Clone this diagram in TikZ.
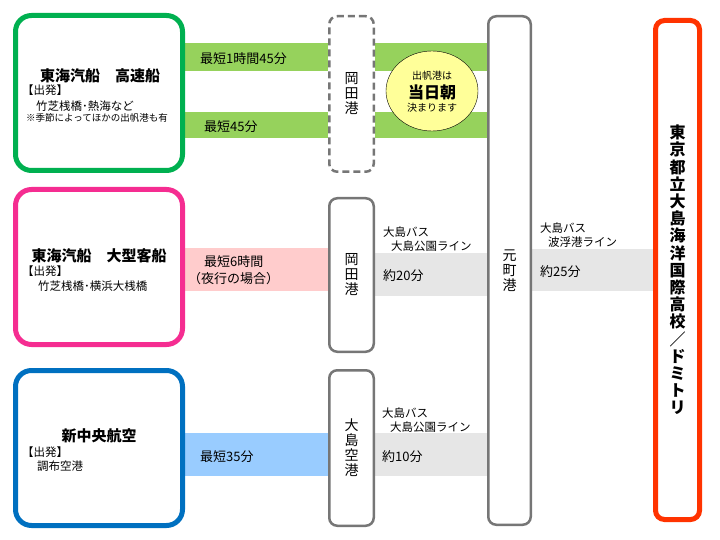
\documentclass[tikz,border=0pt]{standalone}
\usepackage{fontspec}
\setmainfont{Noto Sans CJK JP}
\usepackage{xcolor}
\usepackage{tikz}
\usetikzlibrary{shapes.geometric,backgrounds}

\definecolor{kgreen}{RGB}{0,176,80}
\definecolor{bgreen}{RGB}{150,210,92}
\definecolor{kpink}{RGB}{245,45,145}
\definecolor{bpink}{RGB}{255,204,204}
\definecolor{kblue}{RGB}{0,112,192}
\definecolor{bblue}{RGB}{153,204,255}
\definecolor{portgrey}{RGB}{118,118,118}
\definecolor{bgrey}{RGB}{230,230,230}
\definecolor{kred}{RGB}{255,51,0}
\definecolor{kyellow}{RGB}{255,255,153}

\newcommand{\fs}[2]{\fontsize{#1}{#2}\selectfont}

\begin{document}
\begin{tikzpicture}[x=1pt,y=-1pt,
	startbox/.style={draw,line width=5pt,rounded corners=16pt,fill=white,
		minimum width=167pt,minimum height=155pt,inner sep=0pt},
	portbox/.style={draw=portgrey,line width=2.5pt,rounded corners=8pt,fill=white,
		minimum width=44.5pt,inner sep=0pt,align=center,font=\fs{14}{15}},
	band/.style={line width=#1},
	txt/.style={anchor=west,inner sep=0pt},
	title/.style={inner sep=0pt,font=\fs{15}{16}\bfseries},
	]
	\useasboundingbox (0,0) rectangle (720,540);

	% departure boxes
	\node[startbox,draw=kgreen] (kousoku) at (99,93) {};
	\node[startbox,draw=kpink] (ogata) at (99,267) {};
	\node[startbox,draw=kblue] (chuo) at (99,448) {};

	% ports
	\node[portbox,dashed,dash pattern=on 7pt off 4pt,minimum height=155.5pt] (okadaA) at (351.5,94) {岡\\田\\港};
	\node[portbox,minimum height=153.5pt] (okadaB) at (351.5,275) {岡\\田\\港};
	\node[portbox,minimum height=155.5pt] (kuukou) at (351.5,448) {大\\島\\空\\港};
	\node[portbox,minimum width=42.5pt,minimum height=508.5pt] (moto) at (509.5,270.5) {元\\町\\港};

	% goal
	\node[draw=kred,line width=5pt,rounded corners=9pt,fill=white,inner sep=0pt,
		minimum width=44pt,minimum height=499pt,align=center,font=\fs{16}{17.2}\bfseries]
		(gakkou) at (677.5,270) {東\\京\\都\\立\\大\\島\\海\\洋\\国\\際\\高\\校\\／\\ド\\ミ\\ト\\リ};

	% bands
	\begin{scope}[on background layer]
		\foreach \y/\w in {57/28pt,125/26pt}{
			\draw[band=\w,bgreen] (kousoku.east |- 0,\y) -- (okadaA.west |- 0,\y);
			\draw[band=\w,bgreen] (okadaA.east |- 0,\y) -- (moto.west |- 0,\y);
		}
		\draw[band=43pt,bpink] (ogata.east |- 0,269.5) -- (okadaB.west |- 0,269.5);
		\draw[band=43pt,bgrey] (okadaB.east |- 0,274.5) -- (moto.west |- 0,274.5);
		\draw[band=42pt,bgrey] (moto.east |- 0,270) -- (gakkou.west |- 0,270);
		\draw[band=43pt,bblue] (chuo.east |- 0,454.5) -- (kuukou.west |- 0,454.5);
		\draw[band=43pt,bgrey] (kuukou.east |- 0,454.5) -- (moto.west |- 0,454.5);
	\end{scope}

	% yellow note
	\node[ellipse,draw,thin,fill=kyellow,minimum width=92pt,minimum height=80pt,inner sep=0pt] (kettei) at (432,91) {};
	\node[inner sep=0pt,font=\fs{10}{11}] (ketteiA) at (432,76) {出帆港は};
	\node[inner sep=0pt,font=\fs{16}{17}\bfseries] (ketteiB) at (432,92) {当日朝};
	\node[inner sep=0pt,font=\fs{10}{11}] (ketteiC) at (432,108) {決まります};

	% box texts
	\node[title] (kousokuT) at (100,76) {東海汽船　高速船};
	\node[title] (ogataT) at (99,256) {東海汽船　大型客船};
	\node[title] (chuoT) at (99,436) {新中央航空};
	\foreach \n/\y in {a/90,b/271,c/452}
		\node[txt,font=\fs{11.5}{12}] (dep\n) at (22,\y) {【出発】};
	\node[txt,font=\fs{11.5}{12}] (kousokuD) at (36,106) {竹芝桟橋･熱海など};
	\node[txt,font=\fs{9.5}{10}] (kousokuN) at (26,118) {※季節によってほかの出帆港も有};
	\node[txt,font=\fs{11.5}{12}] (ogataD) at (38,286) {竹芝桟橋･横浜大桟橋};
	\node[txt,font=\fs{11.5}{12}] (chuoD) at (37,466) {調布空港};

	% times
	\foreach \x/\y/\t [count=\i] in {200/59/最短1時間45分,204/127/最短45分,204/262/最短6時間,188/279/（夜行の場合）,200/457/最短35分}
		\node[txt,font=\fs{13}{14}] (jikan\i) at (\x,\y) {\t};

	% buses
	\foreach \x/\y/\l/\t [count=\i] in {383/232/大島公園ライン/約20分,382/413/大島公園ライン/約10分,540/228/波浮港ライン/約25分}{
		\node[txt,font=\fs{11.5}{12}] (bus\i) at (\x,\y) {大島バス};
		\node[txt,font=\fs{11.5}{12}] (line\i) at (\x+8,\y+14) {\l};
		\node[txt,font=\fs{13}{14}] (fun\i) at (\x,\y+44) {\t};
	}
\end{tikzpicture}
\end{document}
